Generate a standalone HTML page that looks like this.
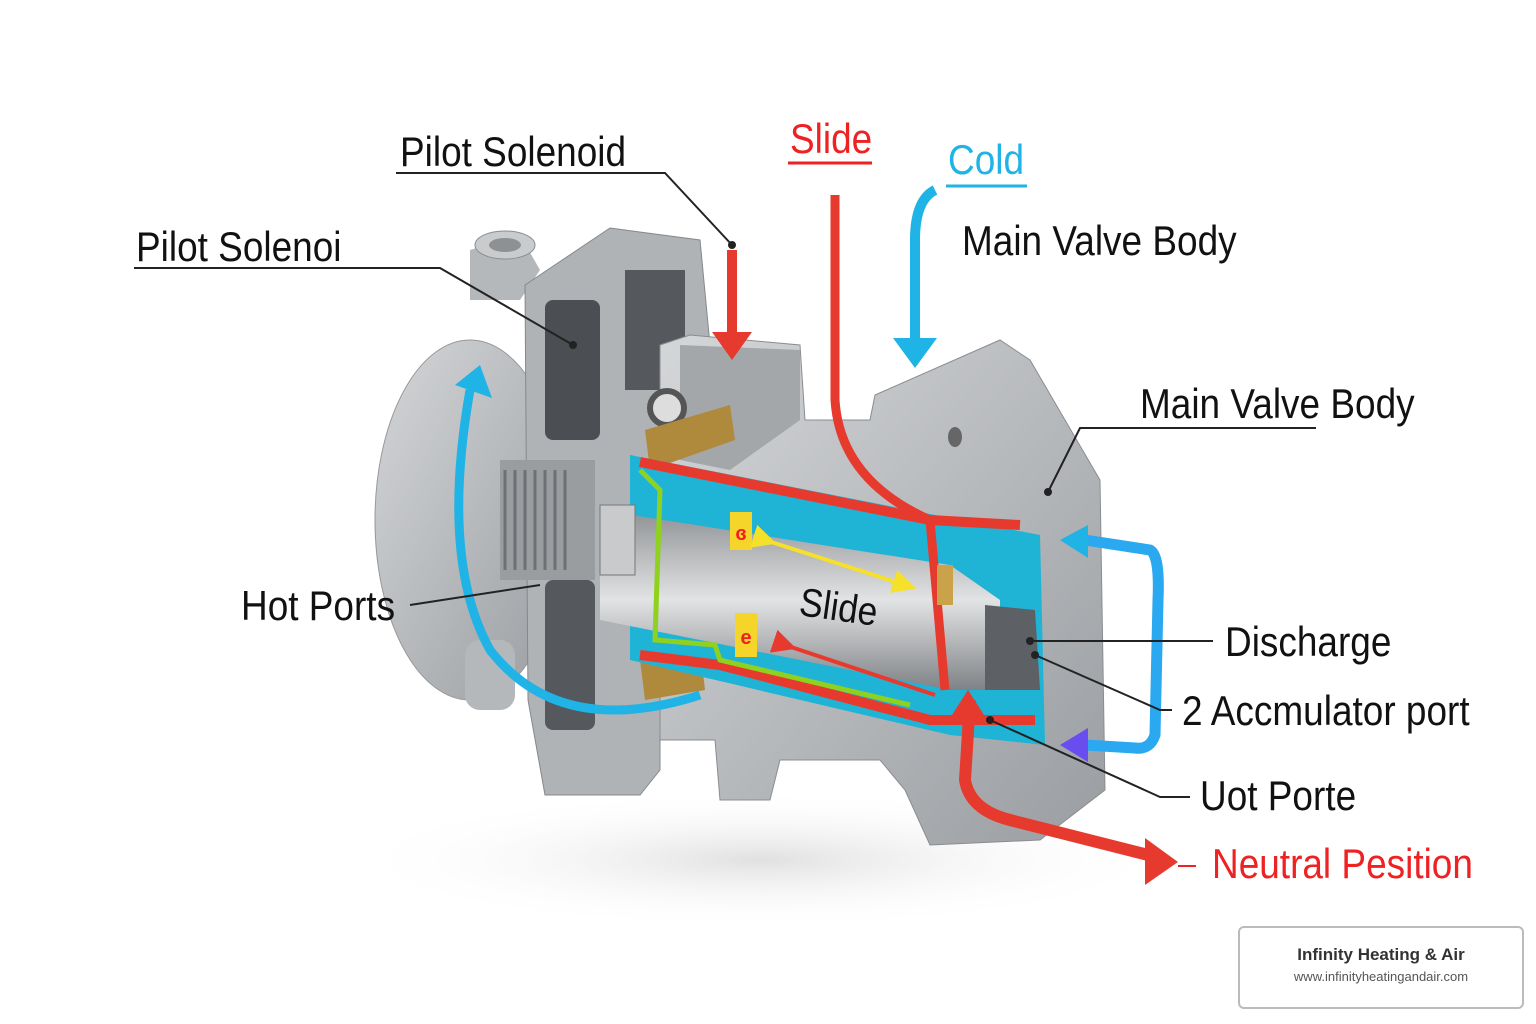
<!DOCTYPE html>
<html><head><meta charset="utf-8"><style>
html,body{margin:0;padding:0;background:#fff}
body{width:1536px;height:1024px;position:relative;overflow:hidden;font-family:"Liberation Sans",sans-serif}
.t{position:absolute;font-size:42px;color:#111;white-space:nowrap;line-height:1;transform:scaleX(0.88);transform-origin:0 0}
.wm{position:absolute;left:1238px;top:926px;width:282px;height:79px;border:2px solid #bbb;border-radius:6px;background:#fff;text-align:center;font-family:"Liberation Sans",sans-serif}
</style></head><body>
<svg width="1536" height="1024" style="position:absolute;left:0;top:0">
<defs>
<linearGradient id="g1" x1="0" y1="0" x2="1" y2="1"><stop offset="0" stop-color="#d4d6d8"/><stop offset="1" stop-color="#9a9da1"/></linearGradient>
<linearGradient id="rod" x1="0" y1="0" x2="0" y2="1"><stop offset="0" stop-color="#8e9194"/><stop offset=".5" stop-color="#e2e3e4"/><stop offset="1" stop-color="#7f8286"/></linearGradient>
<radialGradient id="sh" cx=".5" cy=".5" r=".5"><stop offset="0" stop-color="#ccc" stop-opacity=".6"/><stop offset="1" stop-color="#fff" stop-opacity="0"/></radialGradient>
<marker id="ar" markerWidth="6" markerHeight="6" refX="3" refY="3" orient="auto" markerUnits="strokeWidth"><path d="M0,0 L6,3 L0,6 z" fill="context-stroke"/></marker>
</defs>
<ellipse cx="760" cy="860" rx="420" ry="70" fill="url(#sh)"/>
<ellipse cx="470" cy="520" rx="95" ry="180" fill="url(#g1)" stroke="#999"/>
<path d="M470,250 L520,235 L540,270 L520,300 L470,300z" fill="#b5b8bb"/>
<ellipse cx="505" cy="245" rx="30" ry="14" fill="#c9cbcd" stroke="#8a8d90"/>
<ellipse cx="505" cy="245" rx="16" ry="7" fill="#8e9194"/>
<rect x="465" y="640" width="50" height="70" rx="15" fill="#b5b8bb"/>
<path d="M525,285 L610,228 L700,240 L710,345 L660,345 L660,770 L640,795 L545,795 L528,700 Z" fill="#b0b3b6" stroke="#85888b"/>
<rect x="545" y="300" width="55" height="140" rx="8" fill="#4b4e52"/>
<rect x="625" y="270" width="60" height="120" fill="#55585c"/>
<rect x="545" y="580" width="50" height="150" rx="8" fill="#55585c"/>
<rect x="500" y="460" width="95" height="120" fill="#9a9da0"/>
<g stroke="#6d7074" stroke-width="3">
<line x1="505" y1="470" x2="505" y2="570"/><line x1="515" y1="470" x2="515" y2="570"/><line x1="525" y1="470" x2="525" y2="570"/><line x1="535" y1="470" x2="535" y2="570"/><line x1="545" y1="470" x2="545" y2="570"/><line x1="555" y1="470" x2="555" y2="570"/><line x1="565" y1="470" x2="565" y2="570"/></g>
<path d="M660,345 L690,335 L800,345 L805,420 L870,420 L875,395 L1000,340 L1030,360 L1100,480 L1105,790 L1040,840 L930,845 L905,790 L880,760 L780,760 L770,800 L720,800 L715,740 L660,740 Z" fill="url(#g1)" stroke="#8a8d90"/>
<path d="M680,345 L800,350 L800,420 L730,470 L680,460Z" fill="#a4a7aa"/>
<ellipse cx="955" cy="437" rx="7" ry="10" fill="#666"/>
<circle cx="667" cy="408" r="17" fill="#ddd" stroke="#555" stroke-width="6"/>
<path d="M645,430 L730,405 L735,440 L650,470Z" fill="#b08a3c"/>
<path d="M640,660 L700,645 L705,690 L645,700Z" fill="#b08a3c"/>
<path d="M630,455 L935,515 L1040,535 L1045,745 L950,735 L630,660 Z" fill="#1fb3d6"/>
<path d="M640,462 L930,520 L1020,525" fill="none" stroke="#e73a2e" stroke-width="10"/>
<path d="M640,655 L720,665 L930,720 L1035,720" fill="none" stroke="#e73a2e" stroke-width="10"/>
<path d="M600,510 L950,565 L1000,600 L1000,690 L950,690 L600,620 Z" fill="url(#rod)"/>
<rect x="600" y="505" width="35" height="70" fill="#c8cacc" stroke="#777"/>
<path d="M985,605 L1035,610 L1040,690 L985,690 Z" fill="#5d6064"/>
<path d="M640,470 L660,490 L655,640 L715,645 L720,660 L910,705" fill="none" stroke="#8fd11f" stroke-width="5"/>
<rect x="730" y="512" width="22" height="38" fill="#f5d52a"/><text x="741" y="540" font-size="20" fill="#e22" text-anchor="middle" font-family="Liberation Sans" font-weight="bold">ɞ</text>
<rect x="735" y="613" width="22" height="44" fill="#f5d52a"/><text x="746" y="644" font-size="20" fill="#e22" text-anchor="middle" font-family="Liberation Sans" font-weight="bold">e</text>
<line x1="765" y1="540" x2="905" y2="585" stroke="#f5e02a" stroke-width="4" marker-start="url(#ar)" marker-end="url(#ar)"/>
<line x1="785" y1="645" x2="935" y2="695" stroke="#e73a2e" stroke-width="4" marker-start="url(#ar)"/>
<text x="0" y="0" font-size="40" fill="#111" transform="translate(798,615) rotate(8) scale(0.88,1)" font-family="Liberation Sans">Slide</text>
<path d="M835,195 L835,400 Q840,480 930,520 L945,690" fill="none" stroke="#e73a2e" stroke-width="9"/>
<rect x="937" y="565" width="16" height="40" fill="#c9a24a"/>
<path d="M970,700 L965,780 Q970,810 1010,820 L1160,858" fill="none" stroke="#e73a2e" stroke-width="12"/>
<path d="M1145,838 L1178,862 L1145,885Z" fill="#e73a2e"/>
<path d="M952,715 L968,690 L984,715Z" fill="#e73a2e"/>
<path d="M732,250 L732,335" stroke="#e73a2e" stroke-width="10"/><path d="M712,332 L752,332 L732,360Z" fill="#e73a2e"/>
<path d="M935,190 Q915,200 915,240 L915,340" fill="none" stroke="#1fb3e6" stroke-width="10"/><path d="M893,338 L937,338 L915,368Z" fill="#1fb3e6"/>
<path d="M470,390 Q440,560 490,650 Q560,740 700,695" fill="none" stroke="#1fb3e6" stroke-width="9"/>
<path d="M455,385 L480,365 L492,398Z" fill="#1fb3e6"/>
<path d="M1085,540 L1150,550 Q1160,555 1158,600 L1155,735 Q1150,750 1135,748 L1085,745" fill="none" stroke="#2aa8f0" stroke-width="11"/>
<path d="M1060,540 L1088,525 L1088,558Z" fill="#1fb3e6"/>
<path d="M1060,745 L1088,728 L1088,762Z" fill="#6a4df0"/>
<g stroke="#222" stroke-width="2" fill="none">
<polyline points="396,173 665,173 732,245"/>
<polyline points="134,268 440,268 573,345"/>
<line x1="788" y1="163" x2="872" y2="163" stroke="#e22" stroke-width="3"/>
<line x1="946" y1="186" x2="1027" y2="186" stroke="#1fb3e6" stroke-width="3"/>
<polyline points="1316,428 1080,428 1048,492"/>
<polyline points="410,605 540,585"/>
<polyline points="1030,641 1213,641"/>
<polyline points="1035,655 1160,710 1172,710"/>
<polyline points="990,720 1160,797 1190,797"/>
<line x1="1178" y1="866" x2="1196" y2="866" stroke="#e22"/>
</g>
<g fill="#222"><circle cx="732" cy="245" r="4"/><circle cx="573" cy="345" r="4"/><circle cx="1048" cy="492" r="4"/><circle cx="1030" cy="641" r="4"/><circle cx="1035" cy="655" r="4"/><circle cx="990" cy="720" r="4"/></g>
</svg>
<div class="t" style="left:400px;top:131px">Pilot Solenoid</div>
<div class="t" style="left:136px;top:226px">Pilot Solenoi</div>
<div class="t" style="left:790px;top:118px;color:#e22">Slide</div>
<div class="t" style="left:948px;top:139px;color:#1fb3e6">Cold</div>
<div class="t" style="left:962px;top:220px">Main Valve Body</div>
<div class="t" style="left:1140px;top:383px">Main Valve Body</div>
<div class="t" style="left:241px;top:585px">Hot Ports</div>
<div class="t" style="left:1225px;top:621px">Discharge</div>
<div class="t" style="left:1182px;top:690px">2 Accmulator port</div>
<div class="t" style="left:1200px;top:775px">Uot Porte</div>
<div class="t" style="left:1212px;top:843px;color:#e22">Neutral Pesition</div>
<div class="wm"><div style="font-weight:bold;font-size:17px;color:#333;margin-top:17px">Infinity Heating &amp; Air</div><div style="font-size:13px;color:#555;margin-top:4px">www.infinityheatingandair.com</div></div>
</body></html>
